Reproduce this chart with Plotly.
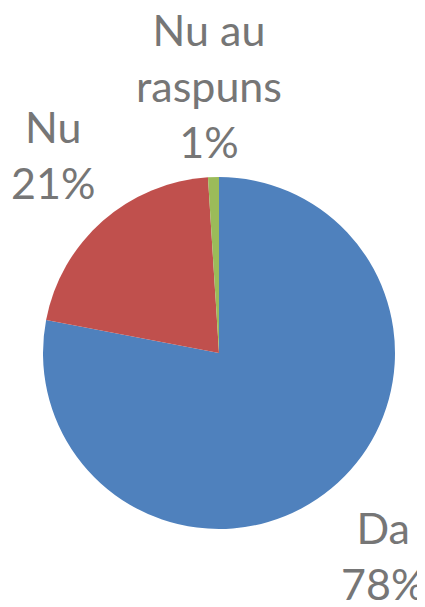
import plotly.graph_objects as go

# Survey answers
labels = ['Da', 'Nu', 'Nu au raspuns']
values = [78, 21, 1]
colors = ['#4F81BD', '#C0504D', '#9BBB59']

W, H = 425, 607
OFF = 8  # the page body adds an 8px margin

fig = go.Figure()
fig.add_trace(go.Pie(
    labels=labels,
    values=values,
    sort=False,
    direction='clockwise',
    rotation=0,
    textinfo='none',
    hoverinfo='label+percent',
    marker=dict(colors=colors, line=dict(width=0)),
    domain=dict(x=[(43 - OFF) / W, (395 - OFF) / W],
                y=[1 - (529 - OFF) / H, 1 - (177 - OFF) / H]),
    showlegend=False,
))

# outside labels, placed like the original
label_pos = {
    'Da': (383, 555),
    'Nu': (53, 155),
    'Nu au raspuns': (209, 85),
}
total = sum(values)
for lab, val in zip(labels, values):
    px, py = label_pos[lab]
    txt = lab.replace('Nu au ', 'Nu au<br>') if lab == 'Nu au raspuns' else lab
    fig.add_annotation(
        x=(px - OFF) / W, y=1 - (py - OFF) / H, xref='paper', yref='paper',
        text=txt + '<br>' + str(round(100 * val / total)) + '%',
        showarrow=False, xanchor='center', yanchor='middle',
        font=dict(family='Lato', size=43, color='#767676'),
    )

fig.update_layout(
    width=W, height=H,
    margin=dict(l=0, r=0, t=0, b=0),
    paper_bgcolor='white',
    plot_bgcolor='white',
)

fig.write_html("out.html")
